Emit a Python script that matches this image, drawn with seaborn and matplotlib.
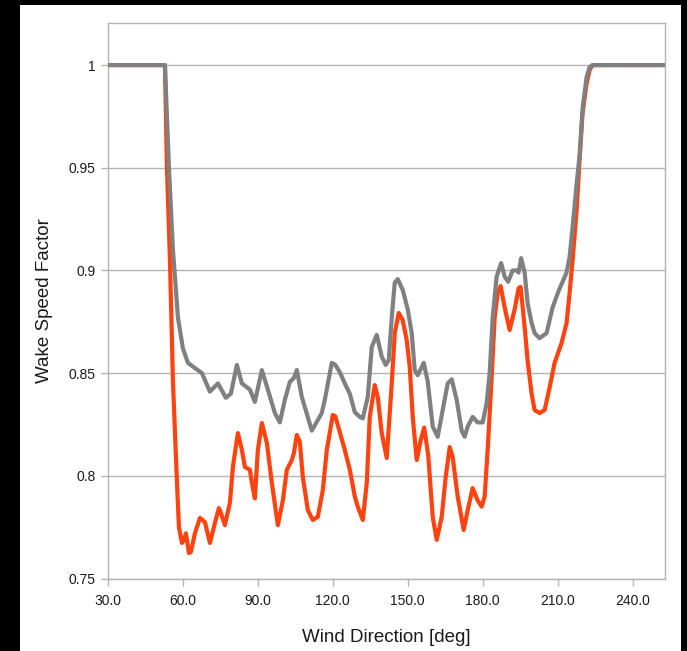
import matplotlib
matplotlib.use("Agg")
import matplotlib.pyplot as plt
from matplotlib.patches import Rectangle
import seaborn as sns
import pandas as pd

# ---- data ----
gray_deg = [30, 52.8, 54.4, 56.0, 56.8, 58, 60, 62, 64.8, 67.6, 70.8, 74, 77.2, 79.2, 81.6, 83.6,
            86.8, 88.8, 91.6, 94, 96.8, 98.8, 100.8, 102.8, 104.4, 105.6, 107.6, 111.6, 115.6,
            116.8, 119.6, 121, 122.8, 124.8, 126.8, 128.8, 130.8, 132, 134, 135.6, 137.6, 139.6,
            141.2, 142.4, 143.6, 144.8, 146, 148, 150, 151.6, 152.8, 154, 156.4, 158, 160, 162,
            164, 166, 167.6, 169.6, 171.6, 172.8, 174, 176, 178, 180, 181.6, 182.8, 184, 185.6,
            187.4, 188.8, 190.2, 192, 193.6, 194.4, 195.4, 196.8, 198, 199.6, 200.8, 202.8, 205.6,
            208, 210.4, 213.6, 214.8, 216, 217.6, 218.8, 220, 221.6, 222.8, 224, 253]
gray_val = [1.0, 1.0, 0.95, 0.91, 0.897, 0.877, 0.862, 0.855, 0.8525, 0.850, 0.841, 0.845, 0.838,
            0.840, 0.854, 0.845, 0.842, 0.836, 0.8515, 0.842, 0.8306, 0.826, 0.837, 0.8457, 0.8476,
            0.8515, 0.8384, 0.822, 0.8306, 0.837, 0.855, 0.854, 0.8505, 0.845, 0.840, 0.831,
            0.8287, 0.828, 0.8384, 0.8628, 0.8686, 0.858, 0.854, 0.8564, 0.877, 0.894, 0.8958,
            0.8905, 0.881, 0.8695, 0.8515, 0.849, 0.855, 0.846, 0.824, 0.819, 0.832, 0.845, 0.847,
            0.837, 0.822, 0.819, 0.824, 0.8287, 0.826, 0.826, 0.8354, 0.850, 0.877, 0.897, 0.9036,
            0.897, 0.8945, 0.900, 0.900, 0.899, 0.906, 0.899, 0.884, 0.8744, 0.8695, 0.867, 0.8695,
            0.882, 0.890, 0.899, 0.9066, 0.921, 0.942, 0.956, 0.979, 0.994, 0.999, 1.0, 1.0]

red_deg = [30, 52.8, 53.6, 54.8, 56, 57.6, 58.4, 59.6, 60.4, 61.2, 62.4, 63.2, 64.8, 66.8, 68.8,
           70.8, 72.8, 74.4, 75.2, 76.8, 78.8, 80, 82, 83.6, 84.8, 86.8, 87.6, 88.8, 90, 91.6,
           93.6, 95.6, 98, 100, 101.6, 103.6, 104.4, 105.6, 106.8, 108, 110, 112, 114, 116,
           117.6, 120, 121, 122.8, 124.8, 126.8, 128.8, 130, 132, 133.6, 134.8, 136.8, 138,
           139.6, 141.6, 143.6, 144.8, 146.4, 148, 149.6, 150.8, 152, 153.6, 155.2, 156.6, 158.2,
           160, 161.6, 163.6, 165.2, 166.8, 168, 170, 172.4, 174, 176, 178, 179.6, 180.8, 182,
           183.6, 184.8, 186, 187.2, 188.8, 190.8, 192.8, 194.4, 195.2, 196.8, 198, 199.6, 200.8,
           202.8, 204.8, 206.8, 208.8, 211.6, 213.6, 214.8, 216, 217.6, 218.8, 220, 221.6, 222.8,
           224, 253]
red_val = [1.0, 1.0, 0.95, 0.905, 0.846, 0.797, 0.775, 0.7673, 0.7688, 0.772, 0.7624, 0.763, 0.772,
           0.7795, 0.7775, 0.7673, 0.777, 0.7843, 0.782, 0.776, 0.7868, 0.8043, 0.8208, 0.8126,
           0.8043, 0.803, 0.7965, 0.789, 0.8126, 0.8257, 0.816, 0.7965, 0.776, 0.788, 0.803,
           0.8077, 0.811, 0.8199, 0.8165, 0.7994, 0.7833, 0.7785, 0.780, 0.793, 0.8126, 0.8296,
           0.829, 0.8213, 0.8126, 0.803, 0.790, 0.785, 0.7785, 0.7965, 0.8287, 0.8442, 0.8384,
           0.8208, 0.8087, 0.845, 0.8695, 0.8793, 0.8758, 0.866, 0.853, 0.8287, 0.8077, 0.8174,
           0.8235, 0.810, 0.780, 0.7688, 0.780, 0.7994, 0.814, 0.809, 0.790, 0.7736, 0.7833, 0.794,
           0.788, 0.785, 0.790, 0.8126, 0.848, 0.877, 0.889, 0.8924, 0.882, 0.871, 0.881, 0.8914,
           0.892, 0.8725, 0.856, 0.840, 0.832, 0.8306, 0.832, 0.843, 0.855, 0.8647, 0.8744, 0.889,
           0.905, 0.929, 0.9537, 0.9766, 0.991, 0.9976, 1.0, 1.0]

x_ticks = [30, 60, 90, 120, 150, 180, 210, 240]
y_ticks = [0.75, 0.8, 0.85, 0.9, 0.95, 1.0]
y_tick_labels = ["0.75", "0.8", "0.85", "0.9", "0.95", "1"]
x_label = "Wind Direction [deg]"
y_label = "Wake Speed Factor"

# ---- style ----
sns.set_style("white")
plt.rcParams["font.family"] = ["Liberation Sans", "DejaVu Sans"]

W, H = 687, 651
fig = plt.figure(figsize=(W / 100, H / 100), dpi=100)
fig.patch.set_facecolor("black")
bg = Rectangle((20 / W, 0), (681 - 20) / W, (H - 5) / H,
               transform=fig.transFigure, facecolor="white",
               edgecolor="none", zorder=-10)
fig.add_artist(bg)

ax = fig.add_axes([108 / W, 1 - 578.5 / H, (665 - 108) / W, (578.5 - 23) / H])
ax.set_zorder(1)
ax.patch.set_facecolor("white")

red_df = pd.DataFrame({"deg": red_deg, "val": red_val})
gray_df = pd.DataFrame({"deg": gray_deg, "val": gray_val})
sns.lineplot(data=red_df, x="deg", y="val", ax=ax, color="#FF420E", linewidth=3.0,
             estimator=None, zorder=3)
sns.lineplot(data=gray_df, x="deg", y="val", ax=ax, color="#808080", linewidth=3.0,
             estimator=None, zorder=4)

ax.set_xlim(30, 253)
ax.set_ylim(0.75, 1.0205)
ax.set_xticks(x_ticks)
ax.set_xticklabels([f"{t:.1f}" for t in x_ticks])
ax.set_yticks(y_ticks)
ax.set_yticklabels(y_tick_labels)
ax.yaxis.grid(True, color="#b3b3b3", linewidth=1)
ax.xaxis.grid(False)
ax.set_axisbelow(True)
for s in ax.spines.values():
    s.set_color("#b3b3b3")
    s.set_linewidth(1)
ax.tick_params(axis="both", which="both", direction="out", length=5, width=1,
               color="#b3b3b3", labelsize=10, labelcolor="#1a1a1a", pad=4,
               bottom=True, left=True)
ax.tick_params(axis="x", pad=6)
ax.set_xlabel(x_label, fontsize=13.5, color="#1a1a1a", labelpad=15)
ax.set_ylabel(y_label, fontsize=13.5, color="#1a1a1a", labelpad=11)

fig.savefig("out.png", dpi=100, facecolor=fig.get_facecolor())
